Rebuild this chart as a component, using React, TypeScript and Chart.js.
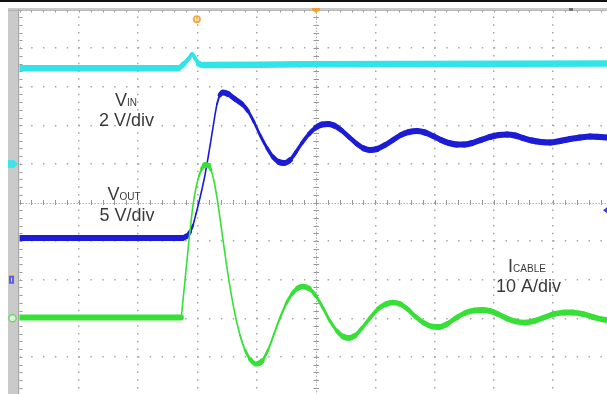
import React, { useEffect, useRef } from "react";
import { Chart, registerables } from "chart.js";

Chart.register(...registerables);

// Time axis in oscilloscope divisions (0..10), amplitudes in vertical divisions (0 = bottom, 10 = top)
const cyanT = [0, 2.67, 2.77, 2.86, 2.91, 2.96, 3.03, 3.11, 4.73, 10];
const cyanV = [8.48, 8.48, 8.59, 8.74, 8.85, 8.74, 8.59, 8.56, 8.58, 8.6];

const vinT = [
  0, 2.74, 2.808, 2.875, 2.926, 2.976, 3.027, 3.078, 3.128, 3.179, 3.229, 3.28, 3.331, 3.381, 3.432,
  3.516, 3.634, 3.752, 3.853, 3.954, 4.056, 4.174, 4.275, 4.376, 4.46, 4.562, 4.663, 4.764, 4.882,
  5.0, 5.101, 5.202, 5.303, 5.422, 5.556, 5.691, 5.809, 5.911, 6.029, 6.164, 6.298, 6.433, 6.568,
  6.703, 6.838, 6.973, 7.108, 7.243, 7.378, 7.496, 7.631, 7.782, 7.934, 8.086, 8.221, 8.356, 8.491,
  8.642, 8.794, 8.946, 9.115, 9.283, 9.452, 9.621, 9.789, 10,
];
const vinV = [
  4.08, 4.08, 4.119, 4.236, 4.417, 4.702, 5.013, 5.35, 5.712, 6.153, 6.619, 7.111, 7.552, 7.785, 7.85,
  7.811, 7.681, 7.552, 7.37, 7.085, 6.749, 6.412, 6.179, 6.049, 6.023, 6.101, 6.308, 6.541, 6.775,
  6.943, 7.021, 7.034, 6.995, 6.878, 6.697, 6.516, 6.399, 6.36, 6.386, 6.49, 6.619, 6.749, 6.826,
  6.852, 6.813, 6.723, 6.619, 6.541, 6.503, 6.503, 6.541, 6.619, 6.697, 6.749, 6.762, 6.736, 6.671,
  6.606, 6.567, 6.554, 6.593, 6.645, 6.684, 6.71, 6.697, 6.671,
];

const icableT = [
  0, 2.723, 2.757, 2.791, 2.825, 2.858, 2.892, 2.926, 2.976, 3.027, 3.078, 3.128, 3.179, 3.229, 3.28,
  3.331, 3.381, 3.432, 3.499, 3.567, 3.634, 3.718, 3.803, 3.887, 3.988, 4.089, 4.191, 4.292, 4.393,
  4.494, 4.595, 4.696, 4.781, 4.882, 5.0, 5.118, 5.236, 5.354, 5.455, 5.556, 5.658, 5.776, 5.911,
  6.046, 6.18, 6.298, 6.417, 6.551, 6.686, 6.821, 6.956, 7.074, 7.209, 7.361, 7.513, 7.664, 7.799,
  7.934, 8.069, 8.221, 8.373, 8.524, 8.676, 8.845, 9.013, 9.182, 9.334, 9.503, 9.671, 9.84, 10,
];
const icableV = [
  2.021, 2.021, 2.474, 2.992, 3.51, 4.028, 4.495, 4.935, 5.376, 5.687, 5.881, 5.972, 5.959, 5.842, 5.557,
  5.117, 4.598, 4.028, 3.303, 2.655, 2.111, 1.567, 1.179, 0.946, 0.816, 0.894, 1.179, 1.593, 2.008,
  2.37, 2.63, 2.785, 2.824, 2.772, 2.578, 2.267, 1.93, 1.671, 1.528, 1.49, 1.554, 1.749, 2.008,
  2.241, 2.37, 2.409, 2.37, 2.228, 2.034, 1.878, 1.788, 1.775, 1.852, 2.008, 2.137, 2.202, 2.215,
  2.189, 2.111, 1.995, 1.917, 1.891, 1.93, 2.021, 2.111, 2.15, 2.15, 2.111, 2.034, 1.969, 1.943,
];

const labels = [
  { main: "V", sub: "IN", line2: "2 V/div", cx: 126, b1: 106, cx2: 126.5, b2: 126 },
  { main: "V", sub: "OUT", line2: "5 V/div", cx: 124, b1: 200, cx2: 127, b2: 221 },
  { main: "I", sub: "CABLE", line2: "10 A/div", cx: 527, b1: 272, cx2: 528.5, b2: 292 },
];

const DIV = 10;
const SUBDIV = 5;

const pts = (t: number[], v: number[]) => t.map((x, i) => ({ x, y: v[i] }));

const segWidth = (band: number) => (ctx: any) => {
  const dx = Math.abs(ctx.p1.x - ctx.p0.x) || 0.01;
  const dy = Math.abs(ctx.p1.y - ctx.p0.y);
  const s = dy / dx;
  return Math.max(1.6, band / Math.sqrt(1 + s * s));
};

const FONT = '"Liberation Sans", Arial, sans-serif';

const scopePlugin = {
  id: "scope",
  beforeDatasetsDraw(chart: any) {
    const { ctx, chartArea: a, scales } = chart;
    const xs = scales.x;
    const ys = scales.y;
    ctx.save();
    const cx = xs.getPixelForValue(5);
    const cy = ys.getPixelForValue(5);
    // center axes (dotted with sub-division ticks)
    ctx.strokeStyle = "#b0b0b0";
    ctx.lineWidth = 1;
    ctx.setLineDash([1.5, 1.5]);
    ctx.beginPath();
    ctx.moveTo(a.left, Math.round(cy) + 0.5);
    ctx.lineTo(a.right, Math.round(cy) + 0.5);
    ctx.moveTo(Math.round(cx) + 0.5, a.top);
    ctx.lineTo(Math.round(cx) + 0.5, a.bottom);
    ctx.stroke();
    ctx.setLineDash([]);
    ctx.strokeStyle = "#999";
    ctx.beginPath();
    for (let i = 0; i <= DIV * SUBDIV; i++) {
      const v = i / SUBDIV;
      const px = Math.round(xs.getPixelForValue(v)) + 0.5;
      const py = Math.round(ys.getPixelForValue(v)) + 0.5;
      // ticks on horizontal center axis
      ctx.moveTo(px, cy - 2.5);
      ctx.lineTo(px, cy + 2.5);
      // ticks on vertical center axis
      ctx.moveTo(cx - 2.5, py);
      ctx.lineTo(cx + 3, py);
      // edge ticks
      ctx.moveTo(a.left, py);
      ctx.lineTo(a.left + 3, py);
      ctx.moveTo(px, a.top);
      ctx.lineTo(px, a.top + 3);
    }
    ctx.stroke();
    ctx.restore();
  },
  afterDatasetsDraw(chart: any) {
    const { ctx, chartArea: a, scales } = chart;
    const xs = scales.x;
    const ys = scales.y;
    ctx.save();
    // top black rule
    ctx.fillStyle = "#111";
    ctx.fillRect(0, 0, chart.width, 2);
    // gray frame
    ctx.fillStyle = "#cacaca";
    ctx.fillRect(8, 8, a.left - 9, chart.height);
    ctx.fillRect(8, 8, chart.width, 2);
    ctx.fillStyle = "#a8a8a8";
    ctx.fillRect(a.left - 1.5, 9, 1.2, chart.height);
    ctx.fillRect(8, 10, chart.width, 0.8);

    // trigger marker (top bar)
    const trigX = xs.getPixelForValue(5);
    ctx.fillStyle = "#f0a030";
    ctx.beginPath();
    ctx.moveTo(trigX - 4, 8);
    ctx.lineTo(trigX + 4, 8);
    ctx.lineTo(trigX + 4, 10);
    ctx.lineTo(trigX, 13);
    ctx.lineTo(trigX - 4, 10);
    ctx.closePath();
    ctx.fill();
    // gray marker top-right
    ctx.fillStyle = "#707070";
    ctx.fillRect(xs.getPixelForValue(9.3) - 2, 8, 4, 3);

    // trigger point marker
    const tx = xs.getPixelForValue(2.99);
    const ty = ys.getPixelForValue(9.75);
    ctx.fillStyle = "#f7a640";
    ctx.beginPath();
    ctx.arc(tx, ty, 4, 0, Math.PI * 2);
    ctx.fill();
    ctx.strokeStyle = "#fff";
    ctx.lineWidth = 1;
    ctx.beginPath();
    ctx.moveTo(tx - 1.5, ty - 2);
    ctx.lineTo(tx - 1.5, ty + 1);
    ctx.lineTo(tx + 1.5, ty + 1);
    ctx.lineTo(tx + 1.5, ty - 2);
    ctx.stroke();

    // channel markers on left
    const mCy = ys.getPixelForValue(6.0);
    ctx.fillStyle = "#3fe3ea";
    ctx.beginPath();
    ctx.moveTo(8, mCy - 4);
    ctx.lineTo(14, mCy - 4);
    ctx.lineTo(18, mCy);
    ctx.lineTo(14, mCy + 4);
    ctx.lineTo(8, mCy + 4);
    ctx.closePath();
    ctx.fill();

    const mBy = ys.getPixelForValue(3.0);
    ctx.fillStyle = "#e8d870";
    ctx.fillRect(9, mBy - 6, 6, 1);
    ctx.fillStyle = "#5a5ae8";
    ctx.fillRect(9, mBy - 4, 5, 8);
    ctx.fillStyle = "#dde";
    ctx.fillRect(11, mBy - 2, 1, 4);

    const mGy = ys.getPixelForValue(2.0);
    ctx.fillStyle = "#d8f5d8";
    ctx.strokeStyle = "#5cd85c";
    ctx.lineWidth = 1.2;
    ctx.beginPath();
    ctx.arc(12.5, mGy, 3.6, 0, Math.PI * 2);
    ctx.fill();
    ctx.stroke();

    // right side blue marker
    const rY = ys.getPixelForValue(4.8);
    ctx.fillStyle = "#3c3ce8";
    ctx.beginPath();
    ctx.moveTo(603, rY);
    ctx.lineTo(607, rY - 3);
    ctx.lineTo(607, rY + 3);
    ctx.closePath();
    ctx.fill();

    // labels
    ctx.fillStyle = "#3a3a3a";
    ctx.textBaseline = "alphabetic";
    for (const l of labels) {
      ctx.font = `18px ${FONT}`;
      const wMain = ctx.measureText(l.main).width;
      ctx.font = `10px ${FONT}`;
      const wSub = ctx.measureText(l.sub).width;
      const x0 = l.cx - (wMain + wSub) / 2;
      ctx.font = `18px ${FONT}`;
      ctx.textAlign = "left";
      ctx.fillText(l.main, x0, l.b1);
      ctx.font = `10px ${FONT}`;
      ctx.fillText(l.sub, x0 + wMain, l.b1);
      ctx.font = `18px ${FONT}`;
      ctx.textAlign = "center";
      ctx.fillText(l.line2, l.cx2, l.b2);
    }
    ctx.restore();
  },
};

const gridColor = (c: any) => {
  const v = c.tick && c.tick.value;
  return v === 0 || v === 5 || v === 10 ? "rgba(0,0,0,0)" : "#a6a6a6";
};

export default function App() {
  const ref = useRef<HTMLCanvasElement | null>(null);
  useEffect(() => {
    if (!ref.current) return;
    const chart = new Chart(ref.current, {
      type: "line",
      data: {
        datasets: [
          {
            label: "ICABLE",
            data: pts(icableT, icableV),
            borderColor: "#36e036",
            borderCapStyle: "round",
            borderJoinStyle: "round",
            cubicInterpolationMode: "monotone",
            segment: { borderWidth: segWidth(5.8) },
            pointRadius: 0,
          },
          {
            label: "VIN",
            data: pts(vinT, vinV),
            borderColor: "#1c1cd6",
            borderCapStyle: "round",
            borderJoinStyle: "round",
            cubicInterpolationMode: "monotone",
            segment: { borderWidth: segWidth(6.2) },
            pointRadius: 0,
          },
          {
            label: "CH",
            data: pts(cyanT, cyanV),
            borderColor: "#30e4e8",
            borderCapStyle: "round",
            borderJoinStyle: "round",
            cubicInterpolationMode: "monotone",
            segment: { borderWidth: segWidth(6.5) },
            pointRadius: 0,
          },
        ],
      } as any,
      options: {
        animation: false,
        responsive: false,
        devicePixelRatio: 1,
        layout: { padding: { left: 19.5, top: 9.5, right: 0.5, bottom: 0.5 } },
        plugins: { legend: { display: false }, tooltip: { enabled: false } },
        elements: { point: { radius: 0 } },
        scales: {
          x: {
            type: "linear",
            min: 0,
            max: DIV,
            ticks: { display: false, stepSize: 1 },
            grid: { drawTicks: false, color: gridColor, lineWidth: 1.5 },
            border: { display: false, dash: [1.5, 6.22], dashOffset: 0.75 },
          },
          y: {
            type: "linear",
            min: 0,
            max: DIV,
            ticks: { display: false, stepSize: 1 },
            grid: { drawTicks: false, color: gridColor, lineWidth: 1.5 },
            border: { display: false, dash: [1.5, 10.36], dashOffset: 0.75 },
          },
        },
      } as any,
      plugins: [scopePlugin],
    });
    return () => chart.destroy();
  }, []);
  return (
    <div
      style={{
        position: "fixed",
        left: 0,
        top: 0,
        width: 607,
        height: 394,
        overflow: "hidden",
        background: "#fff",
      }}
    >
      <canvas ref={ref} width={613} height={396} style={{ width: 613, height: 396, display: "block" }} />
    </div>
  );
}
